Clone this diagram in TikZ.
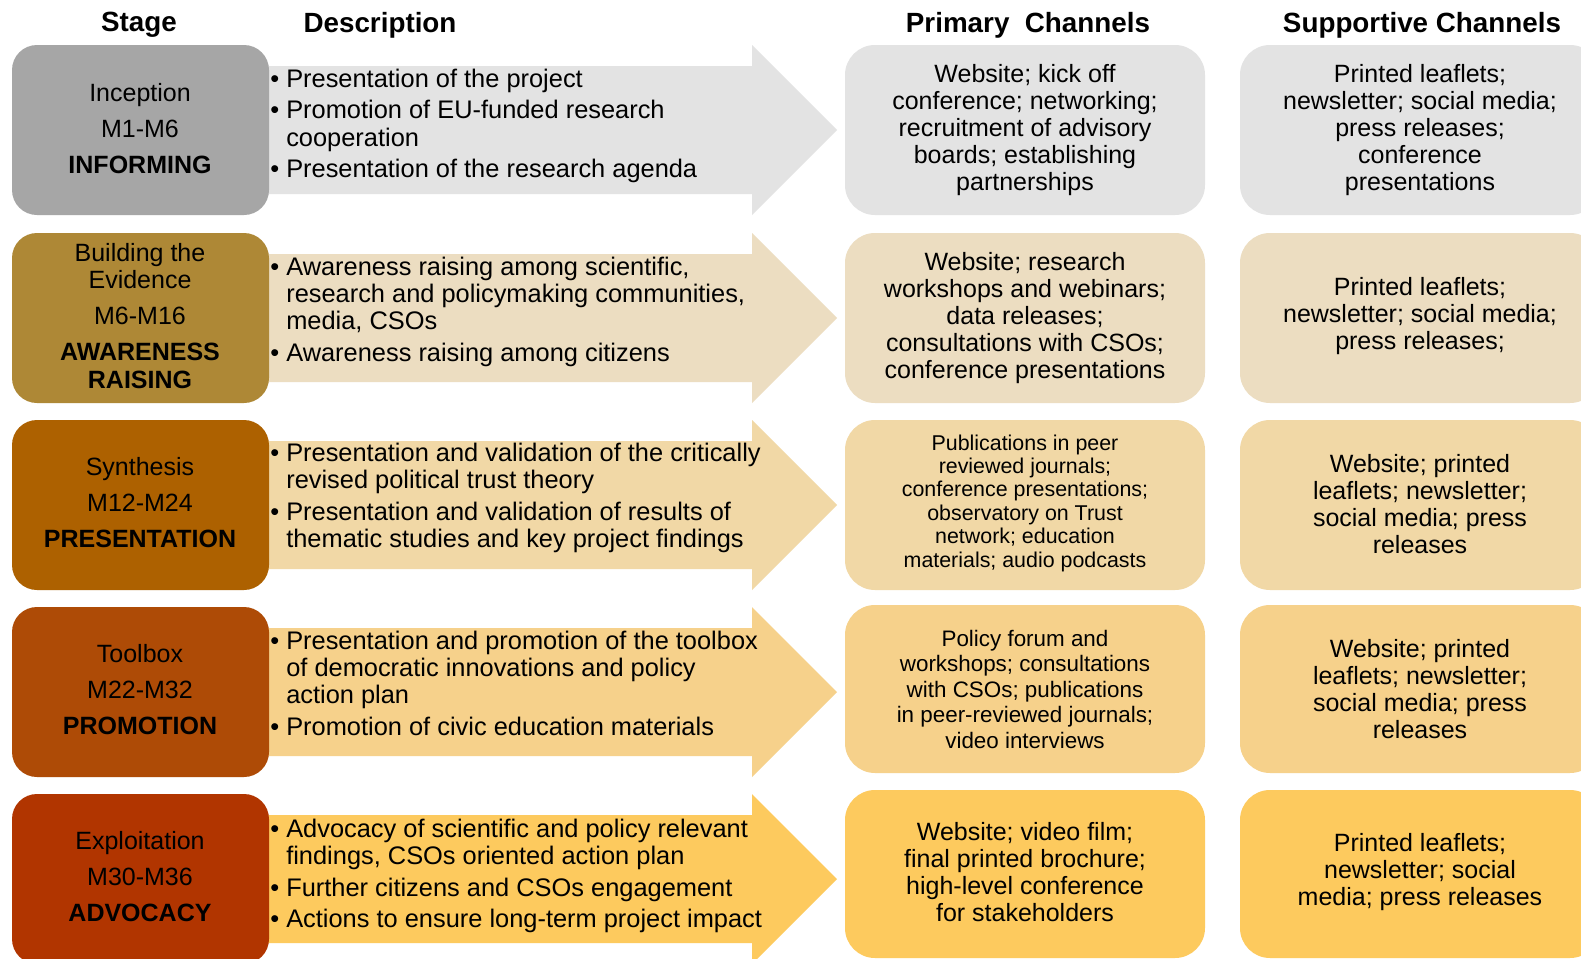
\documentclass[tikz,border=0pt]{standalone}
\usepackage{fontspec}
\setmainfont{Liberation Sans}
\definecolor{stageA}{HTML}{A6A6A6}
\definecolor{lightA}{HTML}{E3E3E3}
\definecolor{stageB}{HTML}{AE8836}
\definecolor{lightB}{HTML}{ECDDC1}
\definecolor{stageC}{HTML}{AD6100}
\definecolor{lightC}{HTML}{F1D8A6}
\definecolor{stageD}{HTML}{AE4B06}
\definecolor{lightD}{HTML}{F6D18B}
\definecolor{stageE}{HTML}{B13500}
\definecolor{lightE}{HTML}{FDCA5E}
\begin{document}
\begin{tikzpicture}[x=0.5pt,y=-0.5pt]
	\tikzstyle{every node}+=[inner sep=0pt]
	\tikzstyle{head}=[font=\fontsize{13.9}{15}\selectfont\bfseries]
	\tikzstyle{txt}=[font=\fontsize{12.5}{13.6}\selectfont, align=center]
	\tikzstyle{small}=[font=\fontsize{10.7}{11.7}\selectfont, align=center]
	\tikzstyle{mid}=[font=\fontsize{11.2}{12.75}\selectfont, align=center]
	\tikzstyle{desc}=[font=\fontsize{12.7}{13.6}\selectfont, anchor=west]
	\tikzstyle{stagebox}=[rounded corners=12.5pt]
	\tikzstyle{chanbox}=[rounded corners=15pt]
	\clip (0,0) rectangle (1581,959);
	\fill [white] (0,0) rectangle (1581,959);
	\node [head] (hstage) at (139,25) {Stage};
	\node [head] (hdesc) at (380,25) {Description};
	\node [head] (hprim) at (1028,25) {Primary\ \ Channels};
	\node [head] (hsupp) at (1422,25) {Supportive Channels};
	% Inception
	\fill [lightA] (250,66) -- (752,66) -- (752,45) -- (837,130) -- (752,215) -- (752,194) -- (250,194) -- cycle;
	\fill [stageA, stagebox] (12,45) rectangle (269,215);
	\fill [lightA, chanbox] (845,45) rectangle (1205,215);
	\fill [lightA, chanbox] (1240,45) rectangle (1600,215);
	\node [txt] (sA) at (140,129) {Inception\\[4.4pt]M1-M6\\[4.4pt]\textbf{INFORMING}};
	\node [desc] (dA) at (270,127) {\begin{tabular}{@{}l@{\hspace{3.5pt}}l@{}}
		\textbullet & Presentation of the project\\[2.2pt]
		\textbullet & Promotion of EU-funded research\\
		& cooperation\\[2.2pt]
		\textbullet & Presentation of the research agenda
	\end{tabular}};
	\node [txt] (pA) at (1025,130) {Website; kick off\\conference; networking;\\recruitment of advisory\\boards; establishing\\partnerships};
	\node [txt] (uA) at (1420,130) {Printed leaflets;\\newsletter; social media;\\press releases;\\conference\\presentations};
	% Building the Evidence
	\fill [lightB] (250,254) -- (752,254) -- (752,233) -- (837,318) -- (752,403) -- (752,382) -- (250,382) -- cycle;
	\fill [stageB, stagebox] (12,233) rectangle (269,403);
	\fill [lightB, chanbox] (845,233) rectangle (1205,403);
	\fill [lightB, chanbox] (1240,233) rectangle (1600,403);
	\node [txt] (sB) at (140,316) {Building the\\Evidence\\[4.4pt]M6-M16\\[4.4pt]\textbf{AWARENESS}\\\textbf{RAISING}};
	\node [desc] (dB) at (270,313) {\begin{tabular}{@{}l@{\hspace{3.5pt}}l@{}}
		\textbullet & Awareness raising among scientific,\\
		& research and policymaking communities,\\
		& media, CSOs\\[2.2pt]
		\textbullet & Awareness raising among citizens
	\end{tabular}};
	\node [txt] (pB) at (1025,318) {Website; research\\workshops and webinars;\\data releases;\\consultations with CSOs;\\conference presentations};
	\node [txt] (uB) at (1420,316) {Printed leaflets;\\newsletter; social media;\\press releases;};
	% Synthesis
	\fill [lightC] (250,441) -- (752,441) -- (752,420) -- (837,505) -- (752,590) -- (752,569) -- (250,569) -- cycle;
	\fill [stageC, stagebox] (12,420) rectangle (269,590);
	\fill [lightC, chanbox] (845,420) rectangle (1205,590);
	\fill [lightC, chanbox] (1240,420) rectangle (1600,590);
	\node [txt] (sC) at (140,503) {Synthesis\\[4.4pt]M12-M24\\[4.4pt]\textbf{PRESENTATION}};
	\node [desc] (dC) at (270,499) {\begin{tabular}{@{}l@{\hspace{3.5pt}}l@{}}
		\textbullet & Presentation and validation of the critically\\
		& revised political trust theory\\[2.2pt]
		\textbullet & Presentation and validation of results of\\
		& thematic studies and key project findings
	\end{tabular}};
	\node [small] (pC) at (1025,503) {Publications in peer\\reviewed journals;\\conference presentations;\\observatory on Trust\\network; education\\materials; audio podcasts};
	\node [txt] (uC) at (1420,504) {Website; printed\\leaflets; newsletter;\\social media; press\\releases};
	% Toolbox
	\fill [lightD] (250,628) -- (752,628) -- (752,607) -- (837,692) -- (752,777) -- (752,756) -- (250,756) -- cycle;
	\fill [stageD, stagebox] (12,607) rectangle (269,777);
	\fill [lightD, chanbox] (845,605) rectangle (1205,773);
	\fill [lightD, chanbox] (1240,605) rectangle (1600,773);
	\node [txt] (sD) at (140,690) {Toolbox\\[4.4pt]M22-M32\\[4.4pt]\textbf{PROMOTION}};
	\node [desc] (dD) at (270,687) {\begin{tabular}{@{}l@{\hspace{3.5pt}}l@{}}
		\textbullet & Presentation and promotion of the toolbox\\
		& of democratic innovations and policy\\
		& action plan\\[2.2pt]
		\textbullet & Promotion of civic education materials
	\end{tabular}};
	\node [mid] (pD) at (1025,689) {Policy forum and\\workshops; consultations\\with CSOs; publications\\in peer-reviewed journals;\\video interviews};
	\node [txt] (uD) at (1420,689) {Website; printed\\leaflets; newsletter;\\social media; press\\releases};
	% Exploitation
	\fill [lightE] (250,815) -- (752,815) -- (752,794) -- (837,879) -- (752,964) -- (752,943) -- (250,943) -- cycle;
	\fill [stageE, stagebox] (12,794) rectangle (269,964);
	\fill [lightE, chanbox] (845,790) rectangle (1205,958);
	\fill [lightE, chanbox] (1240,790) rectangle (1600,958);
	\node [txt] (sE) at (140,877) {Exploitation\\[4.4pt]M30-M36\\[4.4pt]\textbf{ADVOCACY}};
	\node [desc] (dE) at (270,877) {\begin{tabular}{@{}l@{\hspace{3.5pt}}l@{}}
		\textbullet & Advocacy of scientific and policy relevant\\
		& findings, CSOs oriented action plan\\[2.2pt]
		\textbullet & Further citizens and CSOs engagement\\[2.2pt]
		\textbullet & Actions to ensure long-term project impact
	\end{tabular}};
	\node [txt] (pE) at (1025,872) {Website; video film;\\final printed brochure;\\high-level conference\\for stakeholders};
	\node [txt] (uE) at (1420,872) {Printed leaflets;\\newsletter; social\\media; press releases};
\end{tikzpicture}
\end{document}
